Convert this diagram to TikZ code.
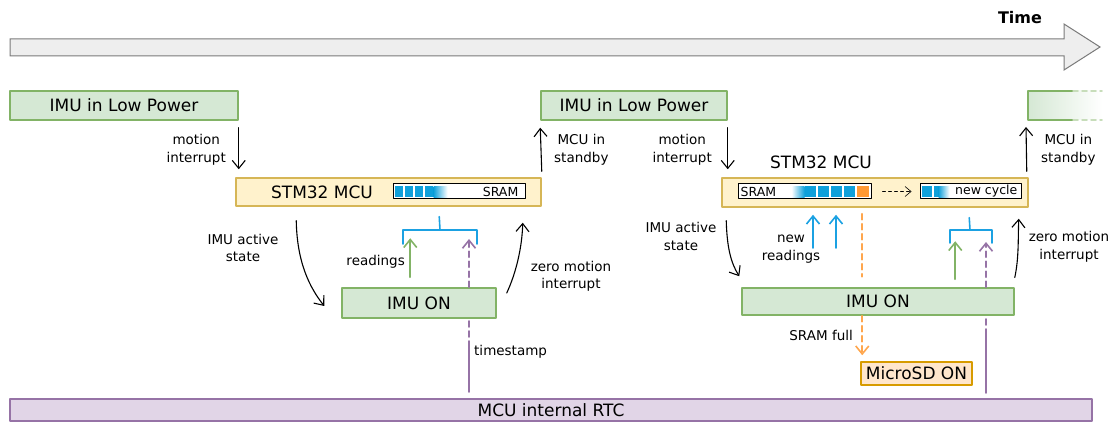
\documentclass[tikz,border=0pt]{standalone}
\usepackage{fontspec}
\setmainfont{DejaVu Sans}
\usetikzlibrary{arrows.meta,calc}
\definecolor{grnfill}{HTML}{D5E8D4}
\definecolor{grnline}{HTML}{82B366}
\definecolor{mcufill}{HTML}{FFF2CC}
\definecolor{mculine}{HTML}{D6B656}
\definecolor{sdfill}{HTML}{FFE6CC}
\definecolor{sdline}{HTML}{D79B00}
\definecolor{rtcfill}{HTML}{E1D5E7}
\definecolor{rtcline}{HTML}{9673A6}
\definecolor{axisfill}{HTML}{EEEEEE}
\definecolor{axisline}{HTML}{7A7A7A}
\definecolor{cellblue}{HTML}{0EA0DA}
\definecolor{brkblue}{HTML}{1BA1E2}
\definecolor{cellorange}{HTML}{FF9933}
\definecolor{sdorange}{HTML}{FFA64D}
\tikzset{
  bigfont/.style={font=\fontsize{17}{20}\selectfont},
  lbl/.style={font=\fontsize{13.5}{17.5}\selectfont, align=center, inner sep=0pt},
  box/.style={bigfont, draw, line width=1.5pt, inner sep=0pt},
  greenbox/.style={box, draw=grnline, fill=grnfill},
  mcubox/.style={box, draw=mculine, fill=mcufill},
  sdbox/.style={box, draw=sdline, fill=sdfill},
  rtcbox/.style={box, draw=rtcline, fill=rtcfill},
  srambar/.style={draw, fill=white, line width=1pt, inner sep=0pt, minimum height=15},
  cellfont/.style={font=\fontsize{12.5}{14}\selectfont, inner sep=0pt},
  tip/.style={-{Straight Barb[length=8pt,width=13pt]}},
  arr/.style={tip, line width=1.1pt},
  greenarr/.style={tip, line width=1.6pt, draw=grnline},
  bluearr/.style={tip, line width=1.6pt, draw=brkblue},
  tsline/.style={line width=1.6pt, draw=rtcline},
  sdarr/.style={line width=1.6pt, draw=sdorange},
  brk/.style={line width=1.6pt, draw=brkblue},
  dashes/.style={dash pattern=on 6pt off 4pt},
}
\begin{document}
\begin{tikzpicture}[x=1pt, y=1pt, line cap=round, line join=round]
\useasboundingbox (0,0) rectangle (1116,423);
% 时间轴
\draw[draw=axisline, fill=axisfill, line width=1pt, line join=miter]
  (10,367) -- (1064,367) -- (1064,353) -- (1100,376) -- (1064,399) -- (1064,384) -- (10,384) -- cycle;
\node[font=\bfseries\fontsize{16}{19}\selectfont] (time) at (1020,405) {Time};

% 状态框
\node[greenbox, minimum width=228, minimum height=29] (lp1) at (124,317.5) {IMU in Low Power};
\node[greenbox, minimum width=186, minimum height=29] (lp2) at (634,317.5) {IMU in Low Power};
\node[mcubox, minimum width=305, minimum height=28] (mcu1) at (388.5,231) {};
\node[bigfont, inner sep=0pt] (mcu1t) at (322,231) {STM32 MCU};
\node[mcubox, minimum width=306, minimum height=29] (mcu2) at (875,230.5) {};
\node[bigfont, inner sep=0pt] (mcu2t) at (821,261) {STM32 MCU};
\node[greenbox, minimum width=154, minimum height=30] (on1) at (419,120) {IMU ON};
\node[greenbox, minimum width=272, minimum height=27] (on2) at (878,121.5) {IMU ON};
\node[sdbox, minimum width=111, minimum height=23] (sd) at (916.5,49.5) {MicroSD ON};
\node[rtcbox, minimum width=1082, minimum height=22] (rtc) at (551,13) {MCU internal RTC};

% 渐隐的下一个框
\coordinate (lp3sw) at (1028,303);
\shade[left color=grnfill, right color=white] (lp3sw) rectangle (1102,332);
\draw[grnline, line width=1.5pt] (1073,332) -- (1028,332) -- (lp3sw) -- (1073,303);
\draw[grnline!45, line width=1.5pt, dash pattern=on 5pt off 4pt]
  (1073,332) -- (1102,332) (1073,303) -- (1102,303);

% SRAM 条(第一段)
\node[srambar, minimum width=132] (sram1) at (459,231.5) {};
\foreach \i in {0,...,3}
  \fill[cellblue] ($(sram1.south west)+(2+\i*10,2)$) rectangle ++(8.5,11);
\shade[left color=cellblue, right color=white] ($(sram1.south west)+(41,2)$) rectangle ++(14,11);
\node[cellfont, anchor=east] (sram1t) at ($(sram1.east)+(-7,0)$) {SRAM};

% SRAM 条(第二段)
\node[srambar, minimum width=133] (sram2) at (804.5,231.5) {};
\node[cellfont, anchor=west] (sram2t) at ($(sram2.west)+(3,0)$) {SRAM};
\shade[left color=white, right color=cellblue] ($(sram2.south west)+(54,2)$) rectangle ++(13,11);
\foreach \i in {0,...,3}
  \fill[cellblue] ($(sram2.south west)+(67+\i*13,2)$) rectangle ++(11.5,11);
\fill[cellorange] ($(sram2.south west)+(119,2)$) rectangle ++(12,11);
\node[srambar, minimum width=101] (cyc) at (970.5,231.5) {};
\fill[cellblue] ($(cyc.south west)+(2,2)$) rectangle ++(10,11);
\fill[cellblue] ($(cyc.south west)+(14,2)$) rectangle ++(5,11);
\shade[left color=cellblue, right color=white] ($(cyc.south west)+(19,2)$) rectangle ++(11,11);
\node[cellfont, anchor=east] (cyct) at ($(cyc.east)+(-4,0)$) {new cycle};
\draw[dashed, line width=0.6pt, -{Straight Barb[length=6pt,width=10pt]}]
  ($(sram2.east)+(11,0)$) -- ($(cyc.west)+(-8,0)$);

% 黑色箭头
\draw[arr] ($(lp1.south east)+(0,-7)$) -- ($(lp1.east |- mcu1.north)+(0,8)$);
\node[lbl, anchor=east] (mi1) at (226,273) {motion\\interrupt};
\draw[arr] ($(mcu1.north east)+(0,6)$) -- ($(lp2.south west)+(0,-7)$);
\node[lbl, anchor=west] (sb1) at (554,273) {MCU in\\standby};
\draw[arr] ($(lp2.south east)+(0,-7)$) -- ($(lp2.east |- mcu2.north)+(0,8)$);
\node[lbl, anchor=east] (mi2) at (712,273) {motion\\interrupt};
\draw[arr] ($(mcu2.north east)+(-2,6)$) -- ($(lp3sw)+(-2,-7)$);
\node[lbl, anchor=west] (sb2) at (1041,273) {MCU in\\standby};

\draw[arr] ($(mcu1.south west)+(61,-14)$) .. controls (297,160) and (310,135) .. ($(on1.west)+(-17,-3)$);
\node[lbl] (as1) at (243,175) {IMU active\\state};
\draw[arr] ($(on1.east)+(10,10)$) .. controls (516,150) and (522,175) .. ($(mcu1.south east)+(-19,-16)$);
\node[lbl] (zm1) at (571,146.5) {zero motion\\interrupt};
\draw[arr] ($(mcu2.south west)+(5,-13)$) .. controls (727,175) and (731,160) .. ($(on2.north west)+(-2,11)$);
\node[lbl] (as2) at (681,186.5) {IMU active\\state};
\draw[arr] ($(on2.east)+(0,24)$) .. controls (1019,165) and (1018,185) .. ($(mcu2.south east)+(-10,-11)$);
\node[lbl] (zm2) at (1069,176) {zero motion\\interrupt};

% 第一段:读数与时间戳
\coordinate (br1) at (440,193);
\draw[brk] (br1) -- ($(mcu1.south west)+(204,-10)$);
\draw[brk] ($(br1)+(-37,-14)$) -- ++(0,14) -- ++(74,0) -- ++(0,-14);
\draw[greenarr] ($(on1.north west)+(69,10)$) -- ($(on1.north west)+(69,49)$);
\node[lbl, anchor=east] (rd1) at (405,161) {readings};
\coordinate (ts1) at (469,31);
\draw[tsline] (ts1) -- ($(ts1)+(0,45)$) coordinate (ts1a);
\draw[tsline, dashes] (ts1a) -- (ts1a |- on1.south);
\draw[tsline, dashes, tip] (ts1 |- on1.north) -- ($(ts1)+(0,153)$);
\node[lbl, anchor=west] (tsl) at (474,71) {timestamp};

% 第二段:新读数、SRAM 满、时间戳
\foreach \xx in {813,836}
  \draw[bluearr] (\xx,175) -- ($(\xx,0 |- mcu2.south)+(0,-7)$);
\node[lbl] (nr) at (791,174) {new\\readings};
\draw[sdarr, dashes] ($(mcu2.south west)+(141,-6)$) -- ($(mcu2.south west)+(141,-69)$);
\draw[sdarr, dashes, tip] ($(on2.south west)+(121,0)$) -- ($(sd.north west)+(2,6)$);
\node[lbl, anchor=east] (sf) at (853,88) {SRAM full};
\coordinate (br2) at (970,193);
\draw[brk] (br2) -- ($(mcu2.south west)+(248,-10)$);
\draw[brk] ($(br2)+(-20,-13)$) -- ++(0,13) -- ++(42,0) -- ++(0,-13);
\draw[greenarr] ($(on2.north west)+(214,8)$) -- ($(on2.north west)+(214,46)$);
\coordinate (ts2) at (986,30);
\draw[tsline] (ts2) -- ($(ts2)+(0,58)$) coordinate (ts2a);
\draw[tsline, dashes] (ts2a) -- (ts2a |- on2.south);
\draw[tsline, dashes, tip] (ts2 |- on2.north) -- ($(ts2)+(0,151)$);
\end{tikzpicture}
\end{document}
